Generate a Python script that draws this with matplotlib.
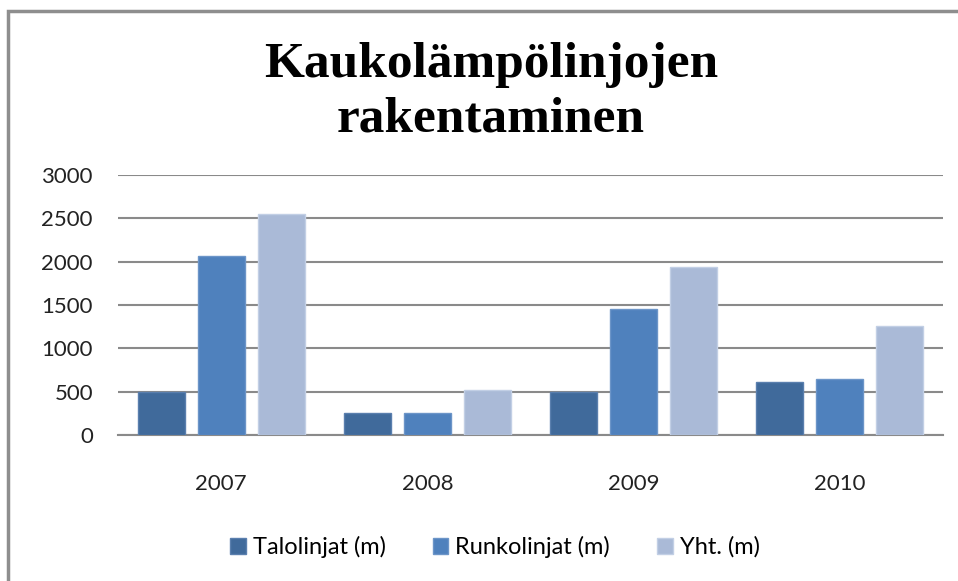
import numpy as np
import matplotlib.pyplot as plt
from matplotlib.patches import Rectangle

vuodet = ["2007", "2008", "2009", "2010"]
talolinjat = [500, 250, 495, 610]
runkolinjat = [2060, 250, 1450, 650]
yhteensa = [2550, 520, 1940, 1260]
sarjat = ["Talolinjat (m)", "Runkolinjat (m)", "Yht. (m)"]
varit = ["#406A9B", "#4F81BD", "#AABAD7"]
reunat = ["#5A7FAE", "#6C95C8", "#C2CFE5"]

plt.rcParams["font.family"] = ["Lato", "DejaVu Sans"]

fig = plt.figure(figsize=(9.58, 5.81), dpi=100)
# harmaa kehys (jatkuu kuvan ulkopuolelle oikealle ja alas)
fig.patches.append(Rectangle((8 / 958, -0.1), 1.2, 1.1 - 11 / 581,
                             transform=fig.transFigure, fill=False,
                             edgecolor="#8E8E8E", linewidth=2.5))

ax = fig.add_axes([118 / 958, 146 / 581, 825 / 958, 260 / 581])

x = np.arange(len(vuodet))
leveys = 0.228
vali = 0.291
arvot = [talolinjat, runkolinjat, yhteensa]
for i in range(3):
    ax.bar(x + (i - 1) * vali, arvot[i], leveys, color=varit[i],
           edgecolor=reunat[i], linewidth=1, label=sarjat[i], zorder=3)

ax.set_ylim(0, 3000)
ax.set_xlim(-0.5, 3.5)
ax.set_yticks(range(0, 3001, 500))
ax.set_xticks(x)
ax.set_xticklabels(vuodet)
ax.yaxis.grid(True, color="#8A8A8A", linewidth=1.5, zorder=0)
for s in ["top", "right", "left"]:
    ax.spines[s].set_visible(False)
ax.spines["bottom"].set_color("#8A8A8A")
ax.spines["bottom"].set_linewidth(1.5)
ax.tick_params(axis="y", length=0, pad=18, labelsize=16, labelcolor="#222222")
ax.tick_params(axis="x", length=0, pad=28, labelsize=16, labelcolor="#222222")

fig.text(491 / 958, 1 - 42 / 581, "Kaukolämpölinjojen\nrakentaminen",
         ha="center", va="top", fontsize=37, fontweight="bold",
         family="Liberation Serif", linespacing=1.25)

fig.legend(loc="center", bbox_to_anchor=(495 / 958, 1 - 547 / 581), ncol=3,
           frameon=False, fontsize=17, handlelength=0.65, handleheight=0.65,
           handletextpad=0.3, columnspacing=2.0)

fig.savefig("out.png", dpi=100)
